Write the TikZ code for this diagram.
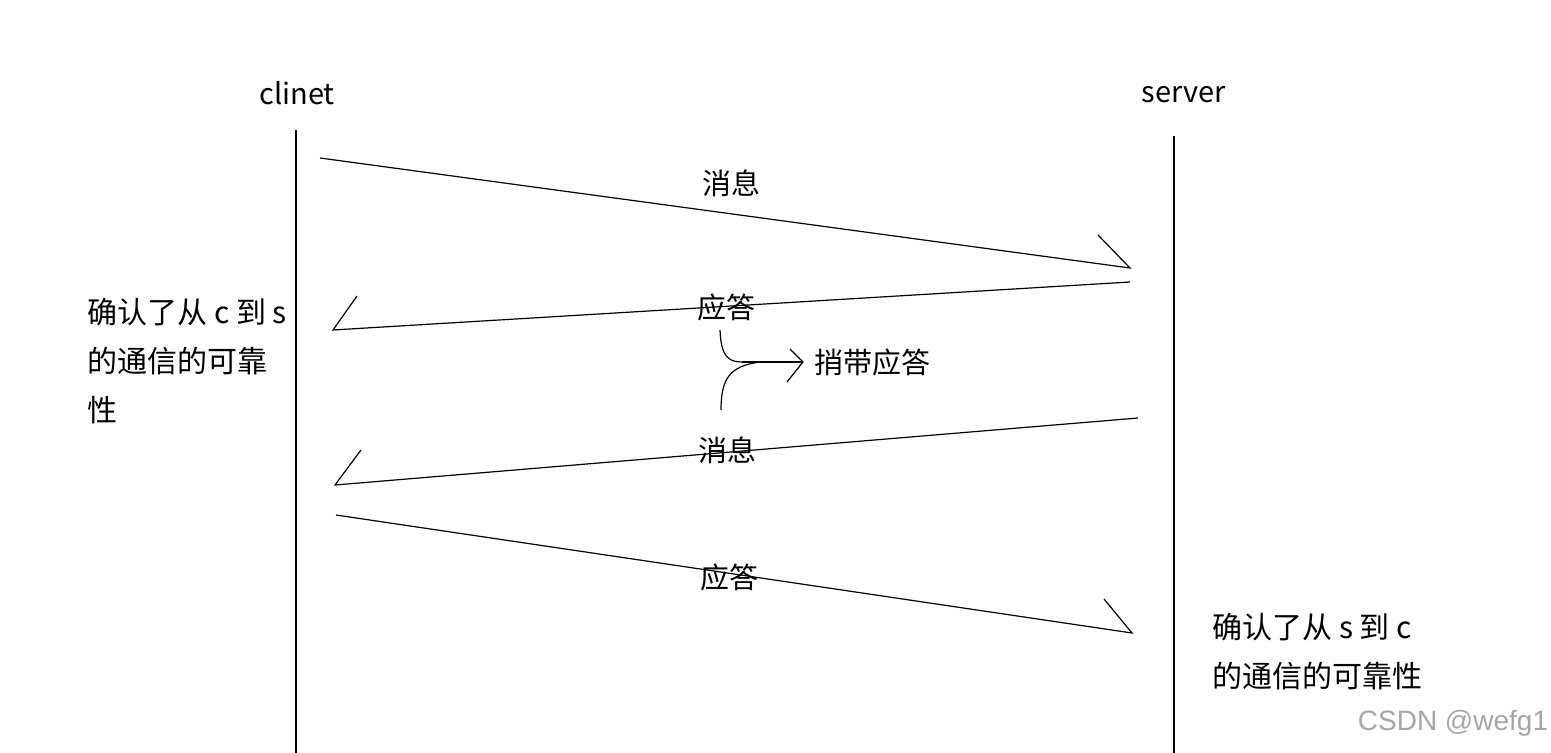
\documentclass[tikz,border=0pt]{standalone}
\usepackage{fontspec}
\setmainfont{Noto Sans CJK SC}
\newfontfamily\markfont{Liberation Sans}
\usepackage{tikz}
\usetikzlibrary{positioning}

\begin{document}
\begin{tikzpicture}[
    x=0.5pt, y=-0.5pt,
    label/.style={font=\fontsize{14.5}{18}\selectfont, inner sep=0pt},
    note/.style={font=\fontsize{15}{24.5}\selectfont, inner sep=0pt, align=left, anchor=north west},
    lifeline/.style={line width=0.6pt},
    msg/.style={line width=0.6pt, line join=miter},
]
\useasboundingbox (0,0) rectangle (1551,753);

% Parties
\node[label] (client) at (297,93) {clinet};
\node[label] (server) at (1184,95) {server};

% Lifelines
\coordinate (clientTop) at (296,130);
\coordinate (clientEnd) at (296,753);
\coordinate (serverTop) at (1174,136);
\coordinate (serverEnd) at (1174,753);
\draw[lifeline] (clientTop) -- (clientEnd);
\draw[lifeline] (serverTop) -- (serverEnd);

% Message end points
\coordinate (msgOneA) at (320,158);
\coordinate (msgOneB) at (1130,268);
\coordinate (ackOneA) at (1130,282);
\coordinate (ackOneB) at (333,330);
\coordinate (msgTwoA) at (1138,418);
\coordinate (msgTwoB) at (335,485);
\coordinate (ackTwoA) at (336,515);
\coordinate (ackTwoB) at (1132,633);

% Messages with half arrowheads
\draw[msg] (msgOneA) -- (msgOneB) -- ++(-32,-33);
\draw[msg] (ackOneA) -- (ackOneB) -- ++(24,-34);
\draw[msg] (msgTwoA) -- (msgTwoB) -- ++(26,-35);
\draw[msg] (ackTwoA) -- (ackTwoB) -- ++(-28,-34);

% Message labels
\node[label] (msgOne) at (731,183) {消息};
\node[label] (ackOne) at (726,307) {应答};
\node[label] (msgTwo) at (727,450) {消息};
\node[label] (ackTwo) at (729,577) {应答};

% Piggyback
\node[label, anchor=west] (piggy) at (814,362) {捎带应答};
\coordinate (braceTop) at (720,330);
\coordinate (braceBot) at (721,410);
\coordinate (braceMid) at (742,362);
\coordinate (braceTip) at (803,362);
\draw[msg] (braceTop) .. controls (721,356) and (728,362) .. (braceMid);
\draw[msg] (760,362) .. controls (730,366) and (721,378) .. (braceBot);
\draw[msg] (braceMid) -- (braceTip);
\draw[msg] (790,349) -- (braceTip) -- (787,382);

% Notes
\node[note] (noteLeft) at (87,298) {确认了从 c 到 s\\的通信的可靠\\性};
\node[note] (noteRight) at (1212,613) {确认了从 s 到 c\\的通信的可靠性};

% Watermark
\node[inner sep=0pt, text=black!35, font=\markfont\fontsize{14}{16}\selectfont] (wm) at (1453,723) {CSDN @wefg1};

\end{tikzpicture}
\end{document}
